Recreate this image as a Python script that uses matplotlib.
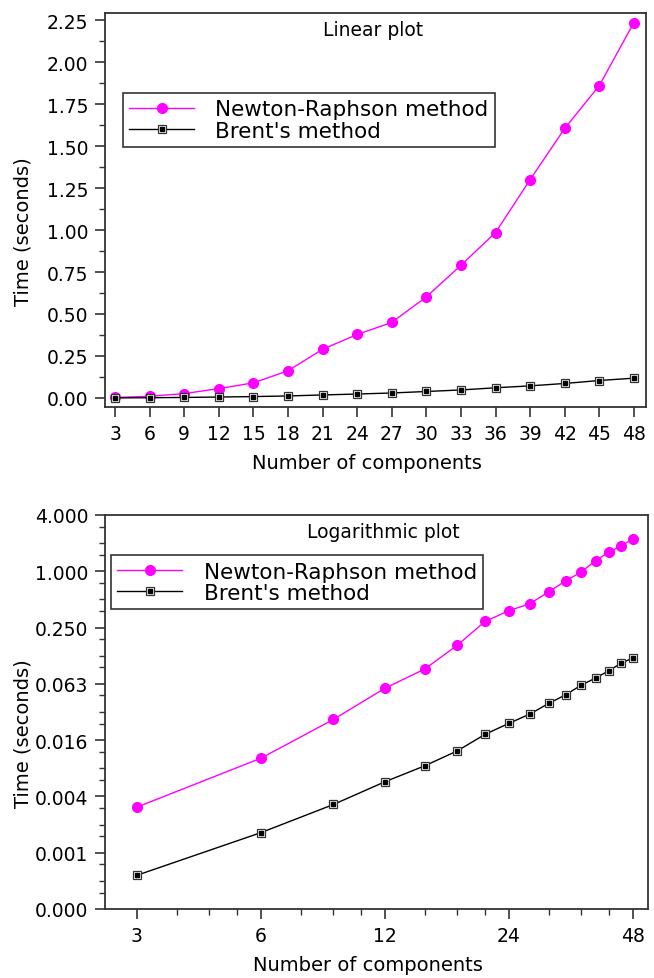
import matplotlib
matplotlib.use('Agg')
import matplotlib.pyplot as plt
from matplotlib.legend_handler import HandlerTuple
from matplotlib.ticker import FixedLocator, FixedFormatter, MultipleLocator, NullFormatter

# data
n_comp = [3, 6, 9, 12, 15, 18, 21, 24, 27, 30, 33, 36, 39, 42, 45, 48]
newton_time = [0.003, 0.010, 0.026, 0.056, 0.090, 0.162, 0.290, 0.378, 0.450,
               0.602, 0.790, 0.985, 1.300, 1.605, 1.860, 2.235]
brent_time = [0.00056, 0.0016, 0.0032, 0.0056, 0.0083, 0.012, 0.018, 0.0236,
              0.0297, 0.0386, 0.0478, 0.0607, 0.0721, 0.0864, 0.104, 0.118]
series_labels = ['Newton-Raphson method', "Brent's method"]

log_xticks = [3, 6, 12, 24, 48]
log_yticks = [4.0 ** k for k in range(-6, 2)]
log_ylabels = ['0.000', '0.001', '0.004', '0.016', '0.063', '0.250', '1.000', '4.000']

magenta = '#ff00ff'
edge = '#333333'

plt.rcParams['font.family'] = 'DejaVu Sans'
fig = plt.figure(figsize=(6.54, 9.79), dpi=100)
ax1 = fig.add_axes([0.1606, 0.5832, 0.827, 0.4025])
ax2 = fig.add_axes([0.1606, 0.0705, 0.830, 0.4025])


def draw(ax):
    nr, = ax.plot(n_comp, newton_time, '-o', color=magenta, lw=1.0, ms=7, mec=magenta)
    b_out, = ax.plot(n_comp, brent_time, '-s', color='black', lw=1.0, ms=6.2,
                     mfc='white', mec=edge, mew=0.9)
    b_in, = ax.plot(n_comp, brent_time, 's', color='black', ms=3.2, ls='none')
    return nr, (b_out, b_in)


def style(ax):
    for sp in ax.spines.values():
        sp.set_linewidth(1.3)
        sp.set_color(edge)
    ax.tick_params(which='major', direction='out', length=7, width=1.2,
                   color=edge, labelsize=13.5, pad=5, top=False, right=False)
    ax.tick_params(which='minor', direction='out', length=4, width=1.0,
                   color=edge, top=False, right=False)
    ax.set_xlabel('Number of components', fontsize=14, va='center')
    ax.set_ylabel('Time (seconds)', fontsize=14, va='center')
    ax.xaxis.set_label_coords(0.485, -0.14)
    ax.yaxis.set_label_coords(-0.152, 0.447)


def add_legend(ax, handles, anchor):
    leg = ax.legend(handles, series_labels, loc='upper left', bbox_to_anchor=anchor,
                    handler_map={tuple: HandlerTuple(ndivide=1)}, numpoints=1,
                    fontsize=15.5, frameon=True, fancybox=False, framealpha=1,
                    edgecolor=edge, borderaxespad=0, handlelength=3.0,
                    handletextpad=1.0, labelspacing=0.05, borderpad=0.3)
    leg.get_frame().set_linewidth(1.2)


# linear plot
h = draw(ax1)
style(ax1)
ax1.set_xlim(2.13, 49.04)
ax1.set_ylim(-0.054, 2.292)
ax1.set_xticks(n_comp)
ax1.yaxis.set_major_locator(MultipleLocator(0.25))
ax1.yaxis.set_minor_locator(MultipleLocator(0.125))
ax1.yaxis.set_major_formatter(plt.FormatStrFormatter('%.2f'))
ax1.text(0.495, 0.957, 'Linear plot', transform=ax1.transAxes,
         ha='center', va='center', fontsize=13.5)
add_legend(ax1, h, (0.033, 0.797))

# logarithmic plot
h = draw(ax2)
style(ax2)
ax2.set_xscale('log', base=2)
ax2.set_yscale('log', base=4)
ax2.set_xlim(2.51, 52.2)
ax2.set_ylim(log_yticks[0], log_yticks[-1])
ax2.xaxis.set_major_locator(FixedLocator(log_xticks))
ax2.xaxis.set_major_formatter(FixedFormatter([str(v) for v in log_xticks]))
ax2.xaxis.set_minor_locator(FixedLocator([b * f for b in log_xticks[:-1] for f in (1.25, 1.5, 1.75)]))
ax2.xaxis.set_minor_formatter(NullFormatter())
ax2.yaxis.set_major_locator(FixedLocator(log_yticks))
ax2.yaxis.set_major_formatter(FixedFormatter(log_ylabels))
ax2.yaxis.set_minor_locator(FixedLocator([b * f for b in log_yticks[:-1] for f in (1.5, 2, 3)]))
ax2.yaxis.set_minor_formatter(NullFormatter())
ax2.text(0.512, 0.957, 'Logarithmic plot', transform=ax2.transAxes,
         ha='center', va='center', fontsize=13.5)
add_legend(ax2, h, (0.011, 0.898))

fig.savefig('out.png', dpi=100)
